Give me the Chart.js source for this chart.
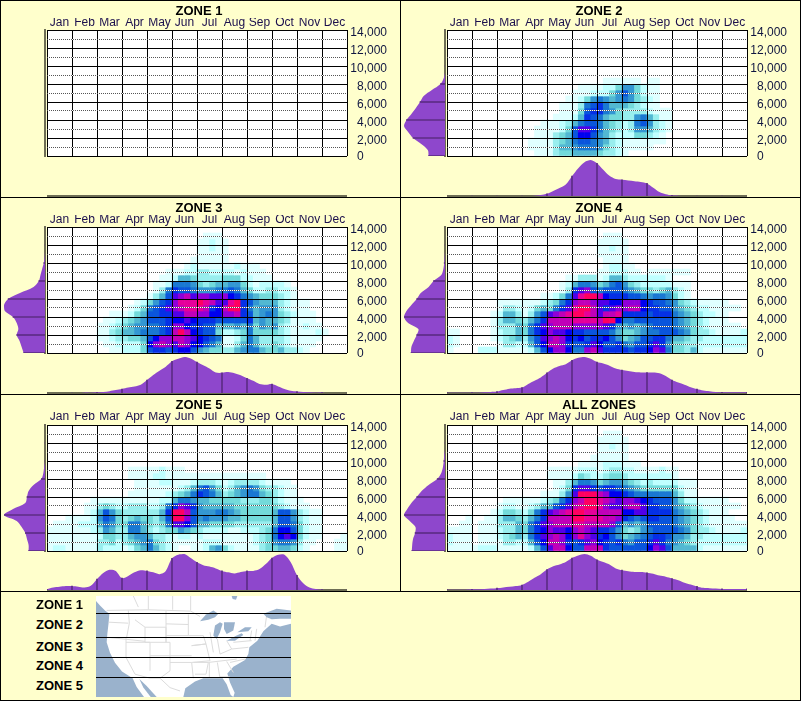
<!DOCTYPE html>
<html>
<head>
<meta charset="utf-8">
<title>Zones</title>
<script src="https://cdn.jsdelivr.net/npm/chart.js@4/dist/chart.umd.min.js"></script>
<style>
  html, body { margin: 0; padding: 0; background: #ffffcc; }
  #page { position: relative; width: 801px; height: 701px; background: #ffffcc; overflow: hidden; }
  #page canvas { position: absolute; }
  .rule { position: absolute; background: #000; }
  .zoneName { position: absolute; left: 36px; font: bold 13px "Liberation Sans", Arial, sans-serif; line-height: 14px; color: #000; }
</style>
</head>
<body>
<div id="page"></div>
<script>
const months = ['Jan', 'Feb', 'Mar', 'Apr', 'May', 'Jun', 'Jul', 'Aug', 'Sep', 'Oct', 'Nov', 'Dec'];
const elevationTicks = [0, 2000, 4000, 6000, 8000, 10000, 12000, 14000];
const minorTicks = [1000, 3000, 5000, 7000, 9000, 11000, 13000];
const zoneTitles = ['ZONE 1', 'ZONE 2', 'ZONE 3', 'ZONE 4', 'ZONE 5', 'ALL ZONES'];
const mapZones = ['ZONE 1', 'ZONE 2', 'ZONE 3', 'ZONE 4', 'ZONE 5'];
const mapZoneLines = [70, 142, 200, 260];

// intensity level per cell, top row first, one hex digit per quarter month, groups = months
const heatColors = ['#ffffff', '#e0ffff', '#bfffff', '#98eeee', '#73dada', '#52b8d2', '#3497d2', '#1a78d2',
  '#0a55dc', '#0530e6', '#0000f0', '#5000e8', '#9000d8', '#c000b8', '#e6009a', '#ff0060'];

const zone1Heat = [];

const zone2Heat = [
  '', '', '', '', '', '', '', '',
  '0000 0000 0000 0000 0000 0000 0111 1110 1100',
  '0000 0000 0000 0000 0000 0111 1224 6642 1100',
  '0000 0000 0000 0000 0000 1112 2246 8642 1100',
  '0000 0000 0000 0000 0001 1246 7656 7643 2100',
  '0000 0000 0000 0000 0011 1378 9755 5432 1100',
  '0000 0000 0000 0000 0011 1489 9764 3333 2111',
  '0000 0000 0000 0000 0111 2598 7544 3367 5311',
  '0000 0000 0000 0001 1123 5788 7543 2378 6321',
  '0000 0000 0000 0011 1124 8bb9 7543 2366 5321',
  '0000 0000 0000 0011 1345 8aa8 6532 2244 3210',
  '0000 0000 0000 0111 1345 7887 6532 1111 1110',
  '0000 0000 0000 0111 1355 6777 6432 1111 1000',
  '0000 0000 0000 0011 1344 5555 4332 1000'
];

const zone3Heat = [
  '',
  '0000 0000 0000 0000 0000 0000 0111',
  '0000 0000 0000 0000 0000 0000 1121 1000',
  '0000 0000 0000 0000 0000 0000 1121 1000',
  '0000 0000 0000 0000 0000 0000 1111 1000',
  '0000 0000 0000 0000 0000 0001 1111 1000',
  '0000 0000 0000 0000 0000 0012 1111 1121 1100',
  '0000 0000 0000 0000 0001 1122 3322 2212 1110',
  '0000 0000 0000 0000 0011 2554 3333 4442 2111',
  '0000 0000 0000 0000 0112 7776 4345 5664 2122 2210',
  '0000 0000 0000 0000 0137 9887 6667 7875 4223 3221',
  '0000 0000 0000 0000 1358 bcdb ccbb ca97 6544 4321',
  '0000 0000 0000 0012 4689 ceee fedb bef9 8655 5321 1100',
  '0000 0000 0000 0124 789b cdee ed9a dff9 7566 6321 1100',
  '0000 0000 0011 1245 8899 bbdd ccaa ccd9 8567 6432 1110',
  '0000 0000 0112 3456 8889 aaba 9998 8888 9565 5431 1110',
  '0000 0000 1123 4566 7789 cca9 9885 5565 7465 6321 1211',
  '0000 0000 1134 5567 7789 dfda 9884 2234 7444 4321 1112 1000',
  '0000 0000 1123 3445 8acc ddcb a987 1124 7533 3321 1111',
  '0000 0000 0112 2224 acdc bdca a875 1135 7533 4321 1110',
  '0000 0000 0011 2224 8998 9aa8 6544 3356 7754 4533 2100'
];

const zone4Heat = [
  '',
  '0000 0000 0000 0000 0000 0000 0111',
  '0000 0000 0000 0000 0000 0000 1111 1000',
  '0000 0000 0000 0000 0000 0000 1121 1000',
  '0000 0000 0000 0000 0000 0000 1111 1000',
  '0000 0000 0000 0000 0000 0000 0111 1000',
  '0000 0000 0000 0000 0000 0000 0122 1100',
  '0000 0000 0000 0000 0000 0000 1122 2110 1111 1110',
  '0000 0000 0000 0000 0001 1333 1255 3222 2221',
  '0000 0000 0000 0000 0012 5776 4578 6432 2222 1110',
  '0000 0000 0000 0000 0013 9bc8 7888 7654 4345 3210',
  '0000 0000 0000 0001 1247 beff da99 9887 6776 4210',
  '0000 0000 1111 1112 3479 cddc bbaa ccca 9887 6432 1111 1000',
  '0000 0000 1332 1245 479b effd b9bc cdda 9988 6543 2211 1110',
  '0000 0001 2553 1368 bcde ffed bdde 9999 8999 7654 3221 1000',
  '0000 0001 3554 3579 dddd eeee dffa 7788 8888 7654 3211 1000',
  '0000 0001 3335 479b cddd cccc cb96 5656 7888 7654 3211 1110',
  '1100 0001 2335 479a cbba 9988 8875 4456 7788 8764 3321 1112',
  '2100 0001 2345 368b cdca 9a89 9a86 4568 8997 5543 3222 2222',
  '2100 0000 1332 258a ddc9 889b a889 7688 9b96 4433 2222 2222',
  '1000 0222 1111 1258 acca 77cd b999 9899 acb7 4435 2111 1111'
];

const zone5Heat = [
  '', '', '', '', '', '', '',
  '0000 0000 0000 0111 1121 1100',
  '0000 0000 0000 0111 1221 1111 1111 1111 1110',
  '0000 0000 0000 0011 1122 1112 3332 1233 3321 1110',
  '0000 0000 0000 0011 1111 1235 7864 2356 7643 3211',
  '0000 0000 0000 0111 1112 3457 9875 3456 7754 3211',
  '0000 0001 1111 1111 1122 5776 5544 4443 3344 3211 1000',
  '0000 0011 3432 2333 2237 9cb9 6555 5544 4444 4321 1100',
  '0000 0012 5864 3333 3359 ffd8 6667 7654 4444 5886 3211',
  '0001 1112 6874 3454 4358 ffc8 6766 6554 4444 5886 3211',
  '0111 1222 5764 4775 4347 bba8 5544 4433 3333 5887 4211',
  '1111 1112 3653 3775 3234 4654 3222 2112 2234 7aa8 4211',
  '1111 1111 2443 3566 5332 1221 2111 1111 1234 7aba 4211 0001',
  '1111 1111 3342 3456 7432 1111 1222 1111 1234 6776 3110 0011',
  '1221 1111 3222 1245 7532 1001 1256 4211 1134 4554 2100 0011'
];

const allZonesHeat = [
  '',
  '0000 0000 0000 0000 0000 0000 0111',
  '0000 0000 0000 0000 0000 0000 1111 1000',
  '0000 0000 0000 0000 0000 0000 1121 1000',
  '0000 0000 0000 0000 0000 0000 1111 1000',
  '0000 0000 0000 0000 0000 0001 1111 1000',
  '0000 0000 0000 0000 0000 0111 1222 1110',
  '0000 0000 0000 0000 1111 1222 1233 2211 1121 1000',
  '0000 0000 0000 0000 1111 2432 2344 3222 2222 1000',
  '0000 0000 0000 0000 0113 5776 4566 5432 3222 2111',
  '0000 0000 0000 0000 0124 9bb9 8998 7654 4444 4211',
  '0000 0000 0000 0001 1136 bfff dcaa 9877 7777 5311',
  '0000 0000 0111 1112 3479 cdff edcb ccba 9888 6422 1111 1000',
  '0000 0000 1221 1235 589b deff ecbb cddb 9988 6543 2111 1110',
  '0000 0001 2443 2479 bcde ffee dddd aabb 9999 7654 3211 1000',
  '0001 0011 3554 3579 dddd ffee eddc 9878 9988 7654 3211 1100',
  '0011 0111 3335 479b cddd eedd ddc8 5656 8888 7654 3211 1111',
  '1111 0111 2335 479a cbba cdcb 9986 4346 7888 8764 3321 1112',
  '2111 0111 2345 379b cdca cecb 9a86 4567 8998 6653 3222 2222',
  '2111 0111 1332 258a ddc9 89bc a989 7688 9b97 6543 2222 2222',
  '1111 1222 1111 1258 bdda 88dd d988 8888 acb8 5555 2111 1111'
];

// profile under each plot, % of its peak, one value per quarter month edge
const zone1Bottom = [];
const zone2Bottom = [0, 0, 0, 0, 0, 0, 0, 0, 0, 0, 0, 0, 0, 0, 1, 3, 6, 14, 22, 32, 55, 77, 94, 100, 91, 73, 56, 47, 45, 43, 41, 39, 35, 23, 11, 5, 2, 1, 0, 0, 0, 0, 0, 0, 0, 0, 0, 0, 0];
const zone3Bottom = [0, 0, 0, 0, 0, 0, 1, 1, 2, 3, 5, 8, 11, 15, 18, 23, 36, 50, 62, 73, 88, 95, 100, 96, 86, 77, 68, 57, 56, 58, 55, 49, 41, 34, 25, 23, 25, 18, 11, 6, 4, 3, 2, 1, 1, 0, 0, 0, 0];
const zone4Bottom = [1, 1, 1, 1, 1, 1, 2, 3, 4, 8, 12, 13, 15, 25, 34, 43, 56, 68, 75, 80, 91, 98, 100, 95, 86, 82, 76, 68, 64, 61, 58, 57, 57, 57, 55, 47, 36, 29, 23, 16, 11, 7, 5, 3, 2, 2, 2, 2, 2];
const zone5Bottom = [2, 7, 9, 11, 11, 9, 7, 12, 30, 47, 56, 53, 33, 39, 49, 55, 53, 49, 44, 53, 88, 98, 100, 89, 77, 69, 65, 60, 53, 49, 46, 50, 53, 53, 58, 72, 89, 98, 98, 77, 41, 19, 7, 3, 1, 0, 0, 0, 0];
const allZonesBottom = [1, 1, 1, 1, 2, 2, 3, 4, 5, 7, 9, 11, 14, 23, 34, 44, 57, 66, 71, 78, 89, 96, 100, 95, 84, 78, 71, 60, 55, 52, 50, 50, 48, 45, 40, 37, 32, 27, 20, 15, 10, 6, 5, 4, 3, 3, 3, 3, 3];

// profile left of each plot, % of its peak, top edge first, one value per row edge
const zone1Left = [];
const zone2Left = [0, 0, 0, 0, 0, 0, 0, 0, 3, 11, 32, 52, 61, 71, 82, 94, 100, 90, 78, 58, 42, 40];
const zone3Left = [0, 0, 0, 0, 0, 1, 3, 7, 11, 15, 28, 61, 90, 100, 98, 78, 69, 65, 69, 62, 57, 52];
const zone4Left = [0, 0, 0, 0, 0, 1, 2, 4, 9, 28, 40, 59, 69, 82, 94, 100, 90, 65, 69, 76, 82, 83];
const zone5Left = [0, 0, 0, 0, 0, 0, 0, 2, 4, 9, 28, 40, 44, 48, 78, 100, 69, 57, 48, 44, 40, 40];
const allZonesLeft = [0, 0, 0, 0, 0, 2, 3, 5, 9, 19, 40, 57, 69, 82, 92, 100, 86, 72, 73, 78, 80, 81];

// rough outline of the locator map, in its own 585 x 301 units
const mapLand = [[288, 17], [873, 17], [873, 100], [840, 108], [815, 100], [790, 122], [772, 150], [748, 170], [745, 190], [735, 208], [700, 228], [682, 248], [690, 275], [704, 305], [700, 318], [692, 312], [680, 280], [668, 262], [640, 262], [610, 262], [585, 272], [556, 292], [550, 318], [432, 318], [410, 288], [398, 262], [366, 242], [345, 216], [330, 186], [320, 155], [322, 130], [326, 95], [328, 70], [315, 60], [300, 45], [288, 32]];
const mapWater = [
  [[418, 264], [440, 285], [470, 318], [452, 318], [430, 290]],
  [[695, 17], [712, 17], [708, 28], [698, 26]],
  [[790, 70], [830, 55], [873, 60], [873, 85], [840, 85], [815, 86], [800, 80]],
  [[600, 92], [618, 72], [640, 60], [655, 70], [645, 80], [625, 88]],
  [[640, 135], [645, 105], [660, 95], [668, 100], [660, 125], [650, 145]],
  [[672, 95], [705, 95], [700, 120], [680, 130], [672, 115]],
  [[680, 150], [710, 135], [725, 128], [730, 133], [705, 150]],
  [[712, 125], [735, 110], [755, 110], [745, 122]]
];
const mapBorders = [
  [[320, 60], [445, 58], [572, 62], [600, 78]], [[445, 17], [445, 58]], [[518, 17], [518, 58]], [[572, 17], [572, 60]], [[400, 17], [415, 50]],
  [[326, 95], [385, 98]], [[322, 140], [435, 152]], [[385, 60], [388, 98], [380, 140]], [[405, 88], [435, 110], [498, 110]],
  [[435, 110], [435, 155], [498, 155], [498, 110]], [[498, 62], [498, 155]], [[498, 100], [565, 102]], [[498, 135], [565, 135]], [[565, 72], [565, 135]],
  [[498, 155], [510, 155], [510, 195], [575, 195]], [[378, 155], [450, 155], [450, 240]], [[378, 140], [378, 200], [405, 250]],
  [[405, 250], [450, 262], [480, 262], [510, 290], [540, 300]], [[450, 195], [510, 195]], [[510, 195], [510, 240], [480, 262]],
  [[510, 215], [575, 215], [580, 262]], [[565, 135], [610, 135], [618, 160], [575, 165]], [[575, 165], [618, 160], [630, 210], [575, 215]],
  [[580, 215], [625, 215], [618, 250], [585, 250]], [[630, 125], [640, 185]], [[652, 145], [660, 190]], [[680, 150], [695, 175], [660, 190]],
  [[625, 215], [710, 205]], [[628, 215], [628, 262]], [[652, 215], [660, 262]], [[680, 212], [700, 245]], [[660, 258], [690, 258]],
  [[690, 215], [735, 205]], [[695, 175], [745, 170]], [[700, 155], [755, 150]], [[755, 120], [750, 150]], [[770, 115], [765, 150]], [[795, 110], [800, 75]]
];

const fontFamily = '"Liberation Sans", Arial, sans-serif';
const page = document.getElementById('page');
const maxElevation = 14000;
const rowCount = 21;
const cellCount = 48;
const zeroLabelAt = 222; // the 0 label sits a little above its gridline in the original
const profilePurple = '#8e47cc';
const profileTick = '#5c2c85';
const baseLine = '#6e6e55';

function addRule(left, top, width, height) {
  const r = document.createElement('div');
  r.className = 'rule';
  r.style.cssText = `left:${left}px;top:${top}px;width:${width}px;height:${height}px`;
  page.appendChild(r);
}

function addCanvas(left, top, width, height) {
  const c = document.createElement('canvas');
  c.width = width;
  c.height = height;
  c.style.left = left + 'px';
  c.style.top = top + 'px';
  c.style.width = width + 'px';
  c.style.height = height + 'px';
  page.appendChild(c);
  return c.getContext('2d');
}

const plotBackground = {
  id: 'plotBackground',
  beforeDraw(chart) {
    const a = chart.chartArea;
    chart.ctx.save();
    chart.ctx.fillStyle = '#fff';
    chart.ctx.fillRect(a.left, a.top, a.width, a.height);
    chart.ctx.restore();
  }
};

function spacerAxis(position, width, weight) {
  return {
    type: 'linear', position, min: 0, max: 1, weight,
    afterFit: s => { s.width = width; },
    ticks: { display: false }, border: { display: false }, grid: { display: false }
  };
}

function minorAxis(color, offset) {
  return {
    type: 'linear', position: 'right', min: 0, max: maxElevation,
    afterBuildTicks: s => { s.ticks = minorTicks.map(v => ({ value: v })); },
    afterFit: s => { s.width = 0; },
    ticks: { display: false },
    border: { display: false, dash: [1, 1], dashOffset: offset },
    grid: { color: color, z: 1, drawTicks: false }
  };
}

function heatChart(left, top, title, rows, extra) {
  const cellLabels = Array.from({ length: cellCount }, (_, i) => i);
  const step = maxElevation / rowCount;
  const datasets = rows.map((row, r) => {
    const levels = row.replace(/ /g, '').padEnd(cellCount, '0').split('').map(c => parseInt(c, 16));
    const high = maxElevation - r * step;
    return {
      data: levels.map(l => (l ? [high - step, high] : null)),
      backgroundColor: levels.map(l => heatColors[l]),
      xAxisID: 'xCell', yAxisID: 'y',
      grouped: false, barPercentage: 1, categoryPercentage: 1, borderWidth: 0
    };
  });
  return new Chart(addCanvas(left, top, 400, 197), {
    type: 'bar',
    data: { labels: cellLabels, datasets },
    plugins: [plotBackground],
    options: {
      responsive: false, animation: false,
      layout: { padding: { right: 2, bottom: 41 - extra } },
      plugins: {
        legend: { display: false }, tooltip: { enabled: false },
        title: { display: true, text: title, color: '#000', padding: { top: 5, bottom: 0 }, font: { family: fontFamily, size: 13, weight: 'bold', lineHeight: 1 } }
      },
      scales: {
        xCell: { type: 'category', display: false, offset: true },
        xMonth: {
          type: 'category', position: 'top', labels: months, offset: true,
          afterFit: s => { s.height = 12 + extra; },
          ticks: { color: '#1b0f4d', padding: extra, autoSkip: false, maxRotation: 0, font: { family: fontFamily, size: 12 } },
          border: { display: false },
          grid: { offset: true, color: '#000', z: 1, drawTicks: false }
        },
        yPad: spacerAxis('left', 47, 0),
        yPadRight: spacerAxis('right', 11, 10),
        y: {
          type: 'linear', position: 'right', min: 0, max: maxElevation, weight: 0,
          afterBuildTicks: s => {
            s.ticks = elevationTicks.map(v => ({ value: v }));
            s.ticks.push({ value: zeroLabelAt });
          },
          afterFit: s => { s.width = 40; },
          ticks: {
            color: '#0f1540', padding: 4, crossAlign: 'far', autoSkip: false, labelOffset: 3,
            font: { family: fontFamily, size: 12 },
            callback: v => {
              if (v === 0) return '';
              if (v === zeroLabelAt) return '0' + '\u00a0'.repeat(7);
              return v.toLocaleString('en-US');
            }
          },
          border: { display: false },
          grid: { color: c => (c.tick && c.tick.value === zeroLabelAt ? 'rgba(0,0,0,0)' : '#000'), z: 1, drawTicks: false }
        },
        yDots: minorAxis('#555', 0),
        yGaps: minorAxis('#fff', 1)
      }
    }
  });
}

function bottomProfile(left, top, values) {
  const labels = Array.from({ length: cellCount + 1 }, (_, i) => i);
  return new Chart(addCanvas(left + 47, top, 300, 37), {
    type: 'line',
    data: {
      labels,
      datasets: [
        { type: 'bar', data: values.map((v, i) => (i % 4 === 0 ? v : null)), backgroundColor: profileTick, barThickness: 1, order: 0 },
        { data: values, backgroundColor: profilePurple, borderWidth: 0, pointRadius: 0, fill: 'origin', tension: 0.3, order: 1 }
      ]
    },
    options: {
      responsive: false, animation: false,
      layout: { padding: { bottom: 1 } },
      plugins: { legend: { display: false }, tooltip: { enabled: false } },
      scales: {
        x: {
          type: 'category', offset: false, afterFit: s => { s.height = 0; },
          ticks: { display: false }, grid: { display: false }, border: { color: baseLine, width: 2 }
        },
        y: { display: false, min: 0, max: 100 }
      }
    }
  });
}

function leftProfile(left, top, values) {
  const labels = Array.from({ length: rowCount + 1 }, (_, i) => i);
  return new Chart(addCanvas(left, top, 47, 128), {
    type: 'line',
    data: {
      labels,
      datasets: [
        { type: 'bar', data: values.map((v, i) => (i % 3 === 0 ? v : null)), backgroundColor: profileTick, barThickness: 1, order: 0 },
        { data: values, backgroundColor: profilePurple, borderWidth: 0, pointRadius: 0, fill: 'origin', tension: 0.3, order: 1 }
      ]
    },
    options: {
      indexAxis: 'y',
      responsive: false, animation: false,
      layout: { padding: { left: 4, right: 2, top: 1, bottom: 1 } },
      plugins: { legend: { display: false }, tooltip: { enabled: false } },
      scales: {
        y: {
          type: 'category', position: 'right', offset: false, afterFit: s => { s.width = 0; },
          ticks: { display: false }, grid: { display: false }, border: { color: baseLine, width: 2 }
        },
        x: { display: false, min: 0, max: 100, reverse: true }
      }
    }
  });
}

function drawPath(ctx, xs, ys, points) {
  ctx.beginPath();
  points.forEach((p, i) => {
    if (i === 0) ctx.moveTo(xs.getPixelForValue(p[0]), ys.getPixelForValue(p[1]));
    else ctx.lineTo(xs.getPixelForValue(p[0]), ys.getPixelForValue(p[1]));
  });
}

const mapOutline = {
  id: 'mapOutline',
  beforeDraw(chart) {
    const { ctx, scales: { x, y }, chartArea: a } = chart;
    ctx.save();
    ctx.fillStyle = '#9ab2cc';
    ctx.fillRect(a.left, a.top, a.width, a.height);
    ctx.fillStyle = '#fff';
    drawPath(ctx, x, y, mapLand);
    ctx.closePath();
    ctx.fill();
    ctx.strokeStyle = '#dcdcdc';
    ctx.lineWidth = 1;
    mapBorders.forEach(line => { drawPath(ctx, x, y, line); ctx.stroke(); });
    ctx.fillStyle = '#9ab2cc';
    mapWater.forEach(w => { drawPath(ctx, x, y, w); ctx.closePath(); ctx.fill(); });
    ctx.restore();
  }
};

// panel borders
addRule(0, 0, 801, 1);
addRule(0, 197, 801, 1);
addRule(0, 394, 801, 1);
addRule(0, 591, 801, 1);
addRule(0, 700, 801, 1);
addRule(0, 0, 1, 701);
addRule(800, 0, 1, 701);
addRule(400, 0, 1, 591);

const rowTops = [0, 197, 394];
const rowExtras = [0, 0, 1];
const heats = [zone1Heat, zone2Heat, zone3Heat, zone4Heat, zone5Heat, allZonesHeat];
const bottoms = [zone1Bottom, zone2Bottom, zone3Bottom, zone4Bottom, zone5Bottom, allZonesBottom];
const lefts = [zone1Left, zone2Left, zone3Left, zone4Left, zone5Left, allZonesLeft];

zoneTitles.forEach((title, i) => {
  const left = i % 2 === 0 ? 0 : 400;
  const top = rowTops[Math.floor(i / 2)];
  const extra = rowExtras[Math.floor(i / 2)];
  bottomProfile(left, top + 160, bottoms[i]);
  leftProfile(left, top + 29 + extra, lefts[i]);
  heatChart(left, top, title, heats[i], extra);
});

new Chart(addCanvas(96, 596, 195, 101), {
  type: 'scatter',
  data: { datasets: [] },
  plugins: [mapOutline],
  options: {
    responsive: false, animation: false,
    plugins: { legend: { display: false }, tooltip: { enabled: false } },
    scales: {
      x: { display: false, min: 288, max: 873 },
      y: {
        min: 17, max: 318, reverse: true,
        afterBuildTicks: s => { s.ticks = mapZoneLines.map(v => ({ value: v })); },
        afterFit: s => { s.width = 0; },
        ticks: { display: false },
        border: { display: false },
        grid: { color: '#000', z: 1, drawTicks: false }
      }
    }
  }
});

[605, 625, 647, 666, 686].forEach((cy, i) => {
  const d = document.createElement('div');
  d.className = 'zoneName';
  d.textContent = mapZones[i];
  d.style.top = (cy - 7) + 'px';
  page.appendChild(d);
});
</script>
</body>
</html>
